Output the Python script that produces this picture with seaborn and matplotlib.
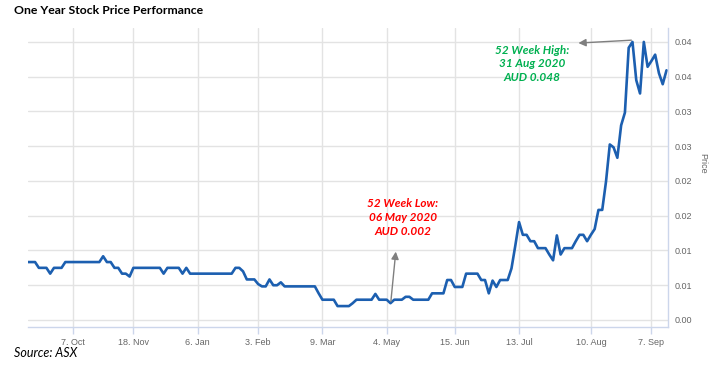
import numpy as np
import pandas as pd
import seaborn as sns
import matplotlib.pyplot as plt

sns.set_theme(style='white')
plt.rcParams['font.family'] = ['Liberation Sans', 'DejaVu Sans']

# daily closing price (AUD), one value per trading point on the ordinal axis
price = [
    0.010, 0.010, 0.010, 0.009, 0.009, 0.009, 0.008, 0.009, 0.009, 0.009,
    0.010, 0.010, 0.010, 0.010, 0.010, 0.010, 0.010, 0.010, 0.010, 0.010,
    0.011, 0.010, 0.010, 0.009, 0.009, 0.008, 0.008, 0.0075, 0.009, 0.009,
    0.009, 0.009, 0.009, 0.009, 0.009, 0.009, 0.008, 0.009, 0.009, 0.009,
    0.009, 0.008, 0.009, 0.008, 0.008, 0.008, 0.008, 0.008, 0.008, 0.008,
    0.008, 0.008, 0.008, 0.008, 0.008, 0.009, 0.009, 0.0084, 0.007, 0.007,
    0.007, 0.0062, 0.0058, 0.0058, 0.007, 0.006, 0.006, 0.0065, 0.0058, 0.0058,
    0.0058, 0.0058, 0.0058, 0.0058, 0.0058, 0.0058, 0.0058, 0.0046, 0.0035, 0.0035,
    0.0035, 0.0035, 0.0024, 0.0024, 0.0024, 0.0024, 0.0029, 0.0035, 0.0035, 0.0035,
    0.0035, 0.0035, 0.0045, 0.0035, 0.0035, 0.0035, 0.0029, 0.0035, 0.0035, 0.0035,
    0.004, 0.004, 0.0035, 0.0035, 0.0035, 0.0035, 0.0035, 0.0046, 0.0046, 0.0046,
    0.0046, 0.0069, 0.0069, 0.0057, 0.0057, 0.0057, 0.008, 0.008, 0.008, 0.008,
    0.0069, 0.0069, 0.0046, 0.0068, 0.0057, 0.0069, 0.0069, 0.0069, 0.0089, 0.0128,
    0.0169, 0.0147, 0.0147, 0.0136, 0.0136, 0.0124, 0.0124, 0.0124, 0.0113, 0.0103,
    0.0146, 0.0113, 0.0124, 0.0124, 0.0124, 0.0136, 0.0147, 0.0147, 0.0136, 0.0147,
    0.0157, 0.019, 0.019, 0.0239, 0.0303, 0.0298, 0.028, 0.0336, 0.0358, 0.047,
    0.048, 0.0414, 0.0391, 0.048, 0.0437, 0.0447, 0.0458, 0.0426, 0.0407, 0.0431,
]

date_ticks = [12, 28, 45, 61, 78, 95, 113, 130, 149, 165]
date_labels = ['7. Oct', '18. Nov', '6. Jan', '3. Feb', '9. Mar',
               '4. May', '15. Jun', '13. Jul', '10. Aug', '7. Sep']

price_ticks = [0.0, 0.006, 0.012, 0.018, 0.024, 0.030, 0.036, 0.042, 0.048]
price_labels = ['0.00', '0.01', '0.01', '0.02', '0.02', '0.03', '0.03', '0.04', '0.04']

high_idx, high_txt = 160, '52 Week High:\n31 Aug 2020\nAUD 0.048'
low_idx, low_txt = 96, '52 Week Low:\n06 May 2020\nAUD 0.002'

df = pd.DataFrame({'idx': np.arange(len(price)), 'price': price})

fig = plt.figure(figsize=(7.09, 3.71), dpi=100)
ax = fig.add_axes([0.0388, 0.1186, 0.9034, 0.8059])

sns.lineplot(data=df, x='idx', y='price', color='#1c5fb0', lw=1.9, ax=ax)

ax.set_xlim(0, 169.4)
ax.set_ylim(-0.00121, 0.0504)

ax.set_xticks(date_ticks)
ax.set_xticklabels(date_labels)
ax.set_yticks(price_ticks)
ax.set_yticklabels(price_labels)
ax.yaxis.tick_right()
ax.set_xlabel('')
ax.set_ylabel('')

ax.grid(True, color='#e3e3e3', lw=1)
ax.set_axisbelow(True)
for s in ['top', 'left']:
    ax.spines[s].set_visible(False)
for s in ['bottom', 'right']:
    ax.spines[s].set_visible(True)
    ax.spines[s].set_color('#ccd6eb')
    ax.spines[s].set_linewidth(1)
ax.tick_params(axis='x', length=5, width=1, color='#ccd6eb', colors='#666666',
               labelsize=6.5, pad=3, direction='out', bottom=True)
ax.tick_params(axis='x', labelcolor='#666666')
ax.tick_params(axis='y', length=0, labelsize=6.5, labelcolor='#666666', pad=5)

fig.text(703 / 709, 1 - 163 / 371, 'Price', rotation=270, ha='center', va='center',
         fontsize=6.5, color='#666666')

# annotations
arrow = dict(arrowstyle='-|>', color='#7f7f7f', lw=1, mutation_scale=11, shrinkA=0, shrinkB=0)
ax.annotate('', xy=(145.7, 0.0478), xytext=(high_idx - 0.3, price[high_idx] + 0.0003),
            arrowprops=arrow)
ax.annotate('', xy=(97.4, 0.0118), xytext=(low_idx + 0.1, price[low_idx] + 0.0003),
            arrowprops=arrow)
ax.text(133.4, 0.0442, high_txt, ha='center', va='center', color='#00b050',
        fontsize=8.5, fontweight='bold', fontstyle='italic', linespacing=1.3,
        family=['Lato', 'DejaVu Sans'])
ax.text(99.3, 0.0177, low_txt, ha='center', va='center', color='#ff0000',
        fontsize=8.5, fontweight='bold', fontstyle='italic', linespacing=1.3,
        family=['Lato', 'DejaVu Sans'])

fig.text(14 / 709, 1 - 10 / 371, 'One Year Stock Price Performance', ha='left', va='center',
         fontsize=8.8, fontweight='bold', color='black', family=['Lato', 'DejaVu Sans'])
fig.text(14 / 709, 1 - 353 / 371, 'Source: ASX', ha='left', va='center',
         fontsize=9, fontstyle='italic', color='black', family=['Lato', 'DejaVu Sans'])

fig.savefig('out.png', dpi=100, facecolor='white')
